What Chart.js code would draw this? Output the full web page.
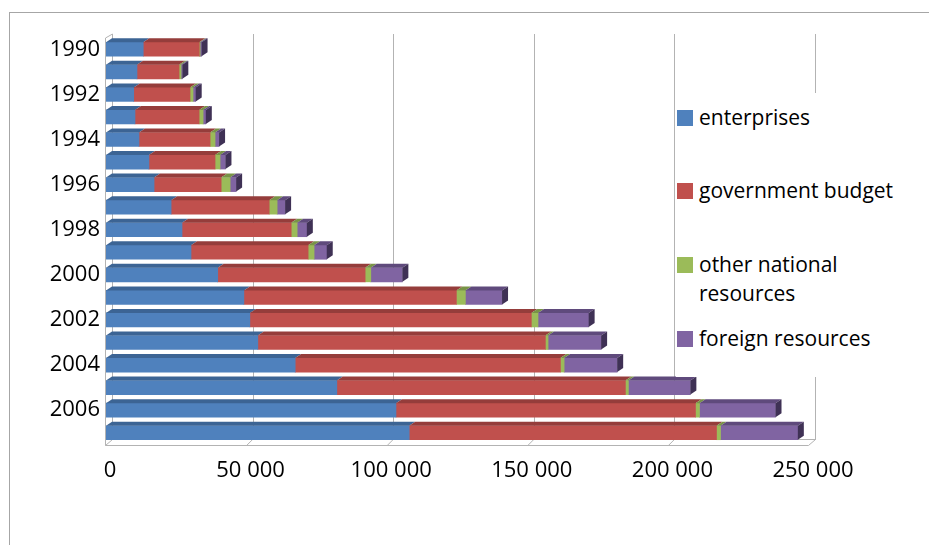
<!DOCTYPE html>
<html>
<head>
<meta charset="utf-8">
<script src="https://cdn.jsdelivr.net/npm/chart.js@4.4.1/dist/chart.umd.min.js"></script>
<style>
  html,body{margin:0;padding:0;background:#fff;overflow:hidden}
  #wrap{position:relative;width:929px;height:545px}
  #frame{position:absolute;left:9px;top:12px;width:1000px;height:1000px;border:1px solid #a6a6a6;box-sizing:border-box}
  canvas{position:absolute;left:0;top:0}
  #legend{position:absolute;left:676px;top:93px;width:253px;height:284px;background:#fff;font-family:"Open Sans",sans-serif;font-size:21px;color:#000}
  .item{position:absolute;left:23px;line-height:29px}
  .sw{position:absolute;left:1px;width:16px;height:16px}
</style>
</head>
<body>
<div id="wrap">
  <div id="frame"></div>
  <canvas id="c" width="929" height="545"></canvas>
  <div id="legend"></div>
</div>
<script>
const years = ['1990','1991','1992','1993','1994','1995','1996','1997','1998','1999','2000','2001','2002','2003','2004','2005','2006','2007'];
const enterprises = [13250,11020,9860,10310,11730,15270,17090,23150,27040,30230,39730,49030,51160,53990,67280,82090,103120,107820];
const government  = [19920,14960,20020,22800,25280,23510,23860,34880,38820,41650,52420,75570,100090,102260,94330,102620,106510,109290];
const otherNat    = [300,710,1060,1420,1780,1780,3200,2830,2120,2120,2020,3200,2380,960,1310,1060,1420,1420];
const foreign     = [510,455,960,960,1420,1920,2120,2830,3440,4500,11220,13040,18000,18860,18860,22040,27040,27500];
const seriesNames = ['enterprises','government budget','other national resources','foreign resources'];
const xTicks = [0,50000,100000,150000,200000,250000];

const FRONT = ['#4f81bd','#c0504d','#9bbb59','#8064a2'];
const TOP   = ['#3c6494','#953d3b','#789346','#5f4a7c'];
const SIDE  = ['#2f4f75','#722e2c','#5c7035','#3f3155'];
const DX = 6, DY = 4;

// 3D look: back wall gridlines, floor, and depth faces on the bars
const depth3d = {
  id:'depth3d',
  beforeDatasetsDraw(chart){
    const {ctx, chartArea:a, scales:{x}} = chart;
    ctx.save();
    ctx.strokeStyle='#b3b3b3'; ctx.lineWidth=1;
    xTicks.forEach(v=>{
      const px=Math.round(x.getPixelForValue(v)+DX)+0.5;
      ctx.beginPath(); ctx.moveTo(px,a.top-4); ctx.lineTo(px,a.bottom-4); ctx.stroke();
    });
    const l=Math.round(a.left)-0.5, r=Math.round(a.right)+DX+0.5, b=Math.round(a.bottom)+1.5;
    ctx.beginPath();
    ctx.moveTo(l+DX+1,a.top-4); ctx.lineTo(l,a.top); ctx.lineTo(l,b);
    ctx.lineTo(r-DX-1,b); ctx.lineTo(r,b-DY-2);
    ctx.moveTo(l,b); ctx.lineTo(l+DX+1,b-DY-2); ctx.lineTo(r,b-DY-2);
    ctx.stroke();
    xTicks.slice(1,-1).forEach(v=>{
      const px=x.getPixelForValue(v);
      ctx.beginPath(); ctx.moveTo(px,b); ctx.lineTo(px+DX,b-DY-2); ctx.stroke();
    });
    ctx.restore();
  },
  afterDatasetsDraw(chart){
    const ctx=chart.ctx;
    ctx.save();
    const n=chart.data.datasets.length;
    for(let d=0; d<n; d++){
      const meta=chart.getDatasetMeta(d);
      meta.data.forEach(el=>{
        const top=el.y-el.height/2, x0=el.base, x1=el.x;
        ctx.fillStyle=TOP[d];
        ctx.beginPath();
        ctx.moveTo(x0,top); ctx.lineTo(x1,top); ctx.lineTo(x1+DX,top-DY); ctx.lineTo(x0+DX,top-DY);
        ctx.closePath(); ctx.fill();
        if(d===n-1){
          const bot=el.y+el.height/2;
          ctx.fillStyle=SIDE[d];
          ctx.beginPath();
          ctx.moveTo(x1,top); ctx.lineTo(x1+DX,top-DY); ctx.lineTo(x1+DX,bot-DY); ctx.lineTo(x1,bot);
          ctx.closePath(); ctx.fill();
        }
      });
    }
    ctx.restore();
  }
};

const fmt = v => String(v).replace(/\B(?=(\d{3})+(?!\d))/g,' ');
const font = {family:'"Open Sans", sans-serif', size:22};

new Chart(document.getElementById('c'),{
  type:'bar',
  data:{
    labels:years,
    datasets:[enterprises,government,otherNat,foreign].map((arr,i)=>({
      label:seriesNames[i], data:arr, backgroundColor:FRONT[i], borderWidth:0, barThickness:14
    }))
  },
  options:{
    indexAxis:'y', responsive:false, animation:false,
    layout:{padding:{top:38,right:120,bottom:0,left:0}},
    plugins:{legend:{display:false},tooltip:{enabled:false}},
    scales:{
      x:{
        stacked:true, min:0, max:250000,
        afterBuildTicks:s=>{s.ticks=xTicks.map(v=>({value:v}));},
        afterFit:s=>{s.height=101;},
        grid:{display:false,drawTicks:false}, border:{display:false},
        ticks:{color:'#000',font,padding:14,labelOffset:4,callback:v=>fmt(v),maxRotation:0}
      },
      y:{
        stacked:true,
        afterFit:s=>{s.width=106;},
        grid:{display:false,drawTicks:false}, border:{display:false},
        ticks:{color:'#000',font,padding:6,autoSkip:false,callback:(v,i)=>i%2===0?years[i]:''}
      }
    }
  },
  plugins:[depth3d]
});

// legend (sits over the plot like the original)
const lg=document.getElementById('legend');
const rows=[{t:'enterprises',y:25},{t:'government budget',y:98},{t:'other national<br>resources',y:172},{t:'foreign resources',y:246}];
rows.forEach((r,i)=>{
  const sw=document.createElement('div'); sw.className='sw'; sw.style.background=FRONT[i]; sw.style.top=(r.y-8)+'px';
  lg.appendChild(sw);
  const it=document.createElement('div'); it.className='item'; it.style.top=(r.y-15)+'px'; it.innerHTML=r.t;
  lg.appendChild(it);
});
</script>
</body>
</html>
